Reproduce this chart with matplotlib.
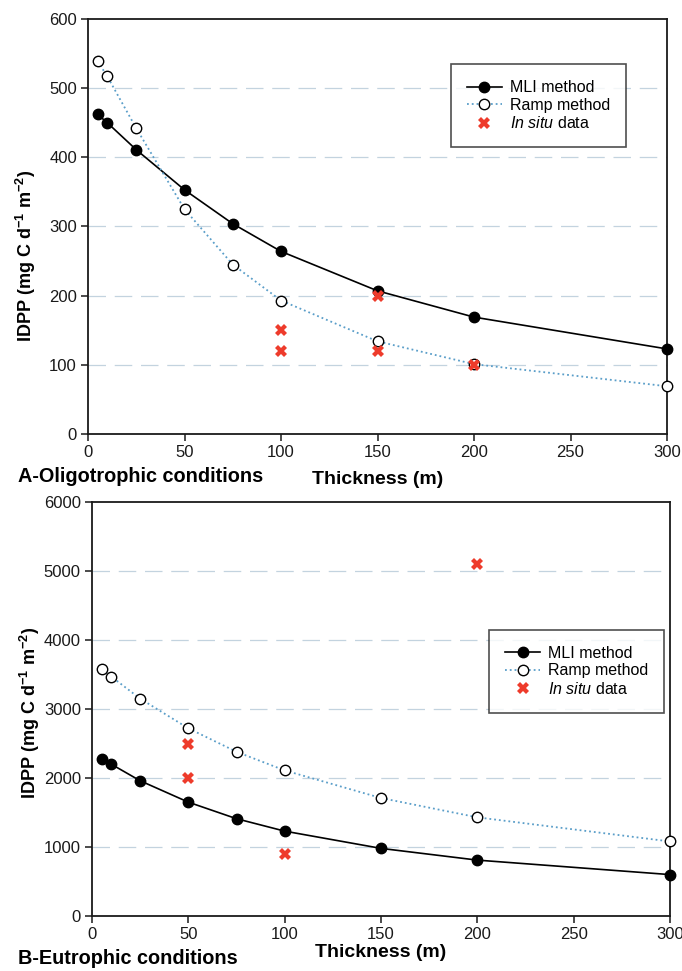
import matplotlib
matplotlib.use("Agg")
import matplotlib.pyplot as plt

plt.rcParams['font.family'] = ['Liberation Sans', 'DejaVu Sans']
plt.rcParams['mathtext.fontset'] = 'custom'
plt.rcParams['mathtext.rm'] = 'Liberation Sans'
plt.rcParams['mathtext.it'] = 'Liberation Sans:italic'
plt.rcParams['mathtext.bf'] = 'Liberation Sans:bold'
plt.rcParams['axes.unicode_minus'] = False

# thickness of the layer (m)
thickness = [5, 10, 25, 50, 75, 100, 150, 200, 300]

# A - oligotrophic
oligo_mli = [462, 450, 411, 353, 304, 264, 207, 169, 123]
oligo_ramp = [539, 517, 442, 325, 245, 193, 134, 101, 69]
oligo_insitu_x = [100, 100, 150, 150, 200]
oligo_insitu_y = [150, 120, 200, 120, 100]

# B - eutrophic
eutro_mli = [2280, 2200, 1960, 1650, 1410, 1230, 980, 810, 600]
eutro_ramp = [3580, 3470, 3150, 2720, 2380, 2110, 1710, 1430, 1080]
eutro_insitu_x = [50, 50, 100, 200]
eutro_insitu_y = [2500, 2000, 900, 5100]

xticks = [0, 50, 100, 150, 200, 250, 300]
ylabel = r"IDPP (mg C d$^{\mathbf{-1}}$ m$^{\mathbf{-2}}$)"


def panel(ax, mli, ramp, sx, sy, ymax, ystep, legend_anchor, xpad, ylab_y):
    ax.set_xlim(0, 300)
    ax.set_ylim(0, ymax)
    ax.set_xticks(xticks)
    ax.set_yticks(range(0, ymax + 1, ystep))
    for y in range(ystep, ymax, ystep):
        ax.axhline(y, color='#c3d3df', lw=0.9, dashes=(14, 7), zorder=0)
    ax.plot(thickness, mli, '-o', color='black', lw=1.2, ms=7.5,
            mfc='black', mec='black', label='MLI method', zorder=3,
            clip_on=False)
    ax.plot(thickness, ramp, ':o', color='#5a9ec9', lw=1.3, ms=7.5,
            mfc='white', mec='black', mew=1.0, label='Ramp method', zorder=3,
            clip_on=False)
    ax.plot(sx, sy, 'X', color='#ee3b2b', ms=9, mew=0, ls='none',
            label=r'$\mathit{In\ situ}$ data', zorder=4)
    for s in ax.spines.values():
        s.set_linewidth(1.3)
        s.set_color('#1a1a1a')
    ax.tick_params(direction='out', length=5, width=1.1, labelsize=12,
                   colors='#1a1a1a', pad=3)
    ax.set_ylabel(ylabel, fontsize=13, fontweight='bold', labelpad=6)
    ax.yaxis.set_label_coords(-0.086, ylab_y)
    ax.set_xlabel('Thickness (m)', fontsize=14, fontweight='bold',
                  labelpad=xpad)
    leg = ax.legend(loc='upper left', bbox_to_anchor=legend_anchor,
                    fontsize=11.5, frameon=True, fancybox=False,
                    edgecolor='#222222', handlelength=2.2, borderpad=1.0,
                    labelspacing=0.15, handletextpad=0.5)
    leg.get_frame().set_linewidth(1.2)


fig = plt.figure(figsize=(6.82, 9.71), dpi=100)
ax1 = fig.add_axes([88 / 682, 1 - 434 / 971, 579 / 682, 415 / 971])
ax2 = fig.add_axes([92 / 682, 1 - 916 / 971, 578 / 682, 414 / 971])

panel(ax1, oligo_mli, oligo_ramp, oligo_insitu_x, oligo_insitu_y,
      600, 100, (0.613, 0.91), 8, 0.43)
panel(ax2, eutro_mli, eutro_ramp, eutro_insitu_x, eutro_insitu_y,
      6000, 1000, (0.673, 0.71), 1, 0.49)

fig.text(18 / 682, 1 - 476 / 971, 'A-Oligotrophic conditions',
         fontsize=14.3, fontweight='bold', va='center', ha='left')
fig.text(18 / 682, 1 - 958 / 971, 'B-Eutrophic conditions',
         fontsize=14.3, fontweight='bold', va='center', ha='left')

fig.savefig('out.png', dpi=100)
